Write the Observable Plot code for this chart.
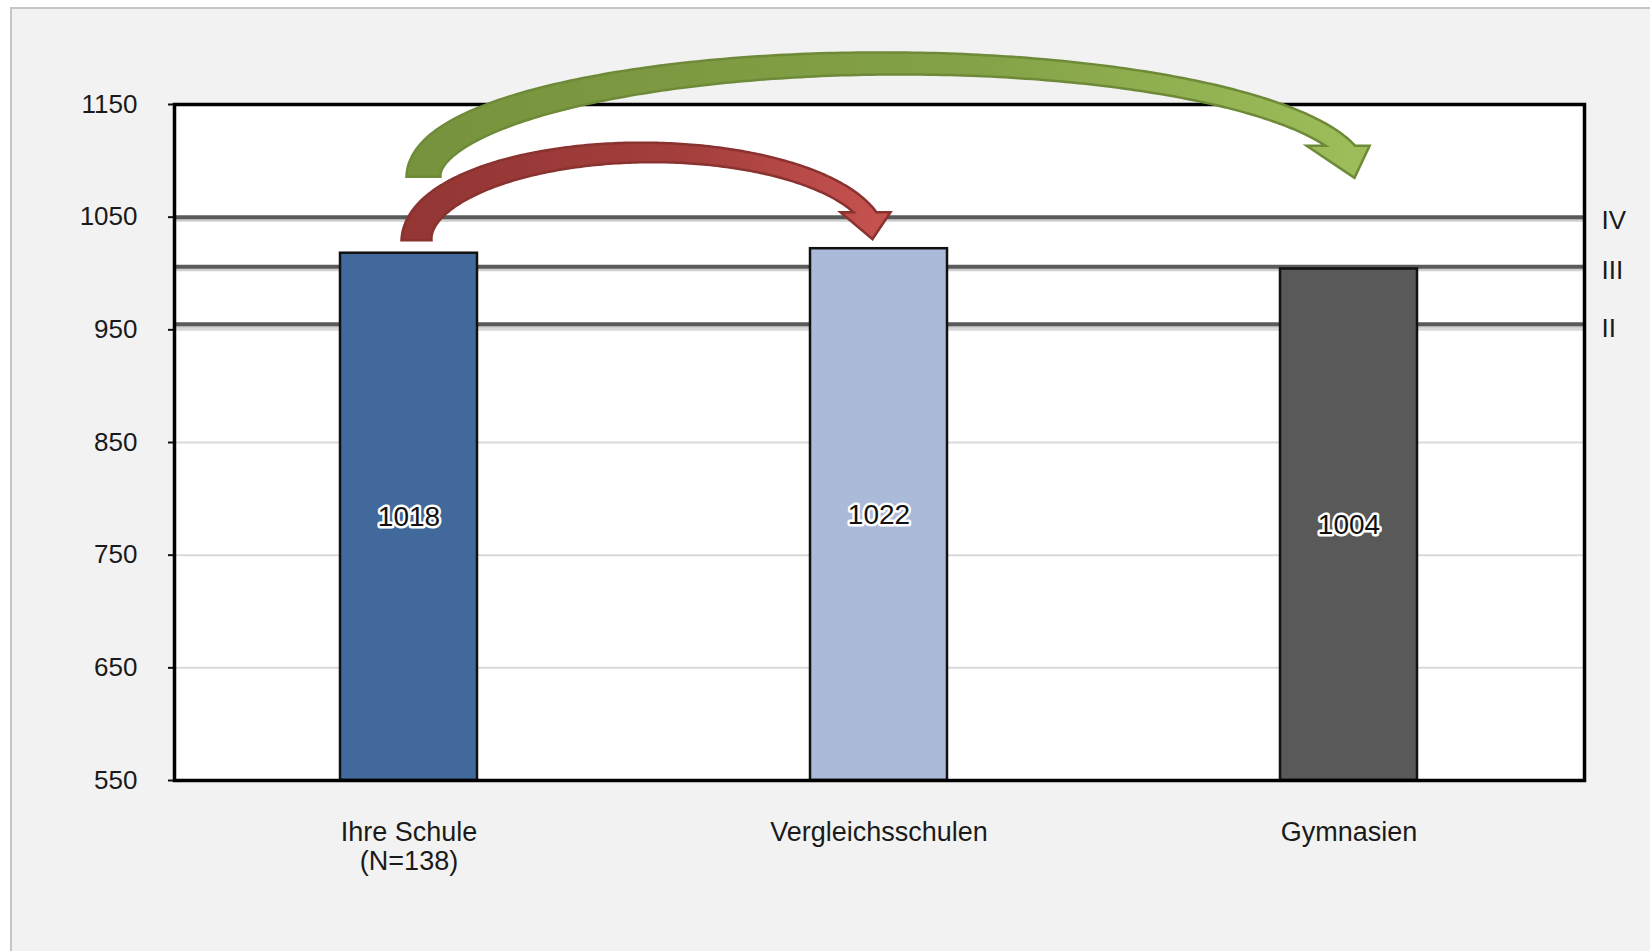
<!DOCTYPE html>
<html>
<head>
<meta charset="utf-8">
<script src="https://cdn.jsdelivr.net/npm/d3@7"></script>
<script src="https://cdn.jsdelivr.net/npm/@observablehq/plot@0.6"></script>
<style>
  html, body { margin: 0; padding: 0; background: #ffffff; width: 1650px; height: 951px; overflow: hidden; }
  #panel { position: absolute; left: 10px; top: 7px; width: 1640px; height: 944px; background: #f2f2f2;
           border-left: 2px solid #c6c6c6; border-top: 2px solid #c6c6c6; box-sizing: border-box; }
  #chart { position: absolute; left: 0; top: 0; }
</style>
</head>
<body>
<div id="panel"></div>
<div id="chart"></div>
<script>
// ---- data ----
const categories = ["Ihre Schule\n(N=138)", "Vergleichsschulen", "Gymnasien"];
const values = [1018, 1022, 1004];
const barColors = ["#41699b", "#abbad9", "#595959"];
const yTicks = [550, 650, 750, 850, 950, 1050, 1150];
const gridValues = [650, 750, 850, 950, 1050];
const levelValues = [1050, 1006, 955];
const levelLabels = ["IV", "III", "II"];
// arrows (annotation): from / to category, start value, peak value, tip value
const arrowFrom = ["Ihre Schule\n(N=138)", "Ihre Schule\n(N=138)"];
const arrowTo = ["Vergleichsschulen", "Gymnasien"];
const arrowStart = [1029, 1085.5];
const arrowPeak = [1107, 1186];
const arrowTip = [1030, 1084.5];
const arrowFillDark = ["#933634", "#77933d"];
const arrowFillLight = ["#c4514e", "#9dbd5a"];
const arrowOutline = ["#8a3230", "#6e8a38"];

const yMin = 550, yMax = 1150;
const bars = categories.map((c, i) => ({cat: c, value: values[i], color: barColors[i]}));
const levels = levelValues.map((v, i) => ({value: v, label: levelLabels[i]}));

const font = "'Liberation Sans', Arial, sans-serif";

const chart = Plot.plot({
  width: 1650,
  height: 951,
  marginLeft: 174,
  marginRight: 66,
  marginTop: 104,
  marginBottom: 171,
  style: {background: "transparent", fontFamily: font, color: "#1a1a1a"},
  x: {domain: categories, paddingInner: 0.708, paddingOuter: 0.354},
  y: {domain: [yMin, yMax]},
  color: {type: "identity"},
  marks: [
    Plot.frame({fill: "white", stroke: "none"}),
    Plot.ruleY(gridValues, {stroke: "#d9d9d9", strokeWidth: 2}),
    Plot.ruleY(levelValues, {stroke: "#cfcfcf", strokeWidth: 3, dy: 3}),
    Plot.ruleY(levelValues, {stroke: "#5a5a5a", strokeWidth: 4}),
    Plot.barY(bars, {x: "cat", y1: yMin, y2: "value", fill: "color", stroke: "#111", strokeWidth: 2.5}),
    Plot.text(bars, {x: "cat", y: d => (d.value + yMin) / 2, text: d => String(d.value),
      fontSize: 28, fill: "#111", stroke: "white", strokeWidth: 5, paintOrder: "stroke"}),
    Plot.text(levels, {y: "value", text: "label", frameAnchor: "right", textAnchor: "start",
      dx: 17, dy: 4, fontSize: 26, fill: "#1a1a1a"}),
    Plot.axisY({ticks: yTicks, tickSize: 6, tickPadding: 31, fontSize: 26, stroke: "#111",
      strokeWidth: 2, fill: "#1a1a1a", tickFormat: d => String(d), label: null}),
    Plot.axisX({tickSize: 0, tickPadding: 39, fontSize: 27, lineHeight: 1.1, fill: "#1a1a1a", label: null}),
    Plot.frame({stroke: "#000", strokeWidth: 3.5})
  ]
});

document.getElementById("chart").appendChild(chart);

// ---- curved block arrows, positioned with the plot's own scales ----
const xs = chart.scale("x"), ys = chart.scale("y");
const xc = c => xs.apply(c) + xs.bandwidth / 2;
const svg = d3.select(chart);
const defs = svg.append("defs");

const startDx = [8, 15], tipDx = [-6, 6];
const w0s = [30, 34], w1s = [17, 19];
const headW = [50, 63], headF = [0.64, 0.76], headH = [27, 32], shaftEndDx = [-7, -13];

function buildArrow(i) {
  const sx = xc(arrowFrom[i]) + startDx[i];
  const sy = ys.apply(arrowStart[i]);
  const py = ys.apply(arrowPeak[i]);
  const tx = xc(arrowTo[i]) + tipDx[i];
  const ty = ys.apply(arrowTip[i]);
  const baseY = ty - headH[i];
  const ex = tx + shaftEndDx[i];
  const ry = sy - py;
  const thEnd = Math.asin(Math.max(-1, Math.min(1, (sy - baseY) / ry)));
  const rx = (ex - sx) / (1 + Math.cos(thEnd));
  const cx = sx + rx, cy = sy;
  const unit = a => { const ux = rx * Math.sin(a), uy = ry * Math.cos(a); const n = Math.hypot(ux, uy); return [ux / n, uy / n]; };
  const N = 240;
  const thMin = thEnd - 0.8;
  const outer = [], inner = [];
  let outerDone = false, innerDone = false;
  for (let k = 0; k <= N; k++) {
    const a = Math.PI + (thMin - Math.PI) * k / N;
    const t = Math.min(1, (Math.PI - a) / (Math.PI - thEnd));
    const C = [cx + rx * Math.cos(a), cy - ry * Math.sin(a)];
    const u = unit(a);
    const n = [u[1], -u[0]];
    const w = w1s[i] + (w0s[i] - w1s[i]) * Math.pow(1 - t, 2);
    const po = [C[0] + n[0] * w / 2, C[1] + n[1] * w / 2];
    const pi = [C[0] - n[0] * w / 2, C[1] - n[1] * w / 2];
    const past = a < Math.PI / 2;
    if (!outerDone) {
      if (past && po[1] >= baseY) {
        const prev = outer[outer.length - 1];
        const f = (baseY - prev[1]) / (po[1] - prev[1]);
        outer.push([prev[0] + (po[0] - prev[0]) * f, baseY]);
        outerDone = true;
      } else outer.push(po);
    }
    if (!innerDone) {
      if (past && pi[1] >= baseY) {
        const prev = inner[inner.length - 1];
        const f = (baseY - prev[1]) / (pi[1] - prev[1]);
        inner.push([prev[0] + (pi[0] - prev[0]) * f, baseY]);
        innerDone = true;
      } else inner.push(pi);
    }
  }
  const W = headW[i], F = headF[i];
  const pts = [
    ...outer,
    [tx + (1 - F) * W, baseY],
    [tx, ty],
    [tx - F * W, baseY],
    ...inner.reverse()
  ];
  const gid = "arrowgrad" + i;
  const g = defs.append("linearGradient").attr("id", gid).attr("gradientUnits", "userSpaceOnUse")
    .attr("x1", sx).attr("y1", 0).attr("x2", tx).attr("y2", 0);
  g.append("stop").attr("offset", 0).attr("stop-color", arrowFillDark[i]);
  g.append("stop").attr("offset", 0.6).attr("stop-color", d3.interpolateRgb(arrowFillDark[i], arrowFillLight[i])(0.35));
  g.append("stop").attr("offset", 1).attr("stop-color", arrowFillLight[i]);
  svg.append("path")
    .attr("d", "M" + pts.map(p => p[0].toFixed(2) + "," + p[1].toFixed(2)).join("L") + "Z")
    .attr("fill", "url(#" + gid + ")")
    .attr("stroke", arrowOutline[i])
    .attr("stroke-width", 2.5)
    .attr("stroke-linejoin", "miter");
}
buildArrow(0);
buildArrow(1);
</script>
</body>
</html>
